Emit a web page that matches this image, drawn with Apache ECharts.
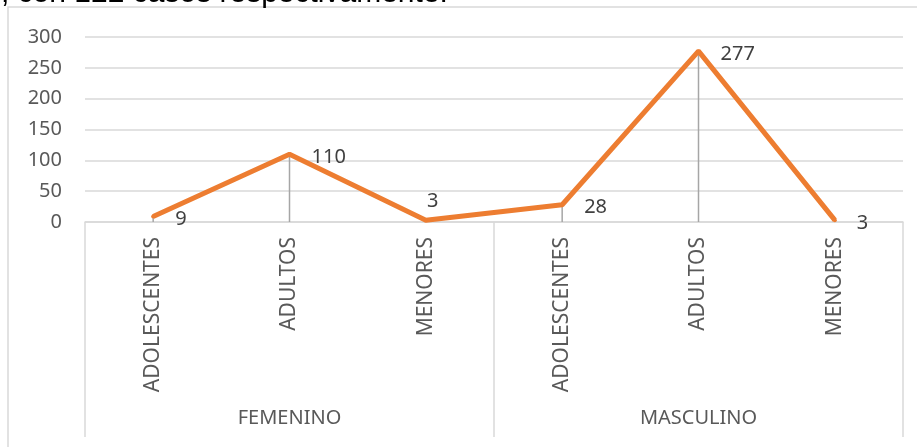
<!DOCTYPE html>
<html>
<head>
<meta charset="utf-8">
<script src="https://cdn.jsdelivr.net/npm/echarts@6/dist/echarts.min.js"></script>
<style>
html,body{margin:0;padding:0;background:#fff;}
#chart{width:917px;height:447px;}
</style>
</head>
<body>
<div id="chart"></div>
<script>
const subCategories = ['ADOLESCENTES', 'ADULTOS', 'MENORES', 'ADOLESCENTES', 'ADULTOS', 'MENORES'];
const groups = ['FEMENINO', 'MASCULINO'];
const values = [9, 110, 3, 28, 277, 3];
const yTicks = { min: 0, max: 300, interval: 50 };
const caption = ', con 122 casos respectivamente.';

const chart = echarts.init(document.getElementById('chart'), null, { renderer: 'canvas' });
const FONT = "'Noto Sans'";
const option = {
  animation: false,
  backgroundColor: '#ffffff',
  graphic: [
    { type: 'rect', shape: { x: 8, y: 7, width: 940, height: 480 }, style: { fill: 'none', stroke: '#d9d9d9', lineWidth: 1.5 }, z: 0, silent: true },
    { type: 'text', x: 1, y: 8.5, style: { text: caption, font: '30px "Liberation Sans"', fill: '#000', textVerticalAlign: 'bottom', verticalAlign: 'bottom' }, z: 10, silent: true }
  ],
  grid: { left: 85, right: 14, top: 37, bottom: 225 },
  xAxis: [
    {
      type: 'category', data: subCategories, position: 'bottom',
      axisLine: { show: true, lineStyle: { color: '#d9d9d9', width: 1.5 } },
      axisTick: { show: false },
      axisLabel: { rotate: 90, margin: 15, color: '#595959', fontFamily: FONT, fontSize: 21 },
      splitLine: { show: false }
    },
    {
      type: 'category', data: groups, position: 'bottom', offset: 0,
      axisLine: { show: false },
      axisTick: { show: true, length: 215, lineStyle: { color: '#d9d9d9', width: 1.5 } },
      axisLabel: { margin: 186, color: '#595959', fontFamily: FONT, fontSize: 20 },
      splitLine: { show: false }
    }
  ],
  yAxis: {
    type: 'value', min: yTicks.min, max: yTicks.max, interval: yTicks.interval,
    axisLine: { show: false }, axisTick: { show: false },
    axisLabel: { margin: 23, color: '#595959', fontFamily: FONT, fontSize: 20 },
    splitLine: { lineStyle: { color: '#d9d9d9', width: 1.5 } }
  },
  series: [
    {
      type: 'bar', xAxisIndex: 0, data: values, barWidth: 1.5, silent: true,
      itemStyle: { color: '#a6a6a6' }, z: 1
    },
    {
      type: 'line', xAxisIndex: 0, z: 3,
      data: values.map((v, i) => i === 2 ? { value: v, label: { position: 'top', offset: [7, -2] } } : v),
      symbol: 'circle', symbolSize: 4, showSymbol: true,
      itemStyle: { color: '#ED7D31' },
      lineStyle: { color: '#ED7D31', width: 5 },
      label: { show: true, position: 'right', offset: [15, 3], color: '#404040', fontFamily: FONT, fontSize: 20 }
    }
  ]
};
chart.setOption(option);
</script>
</body>
</html>
